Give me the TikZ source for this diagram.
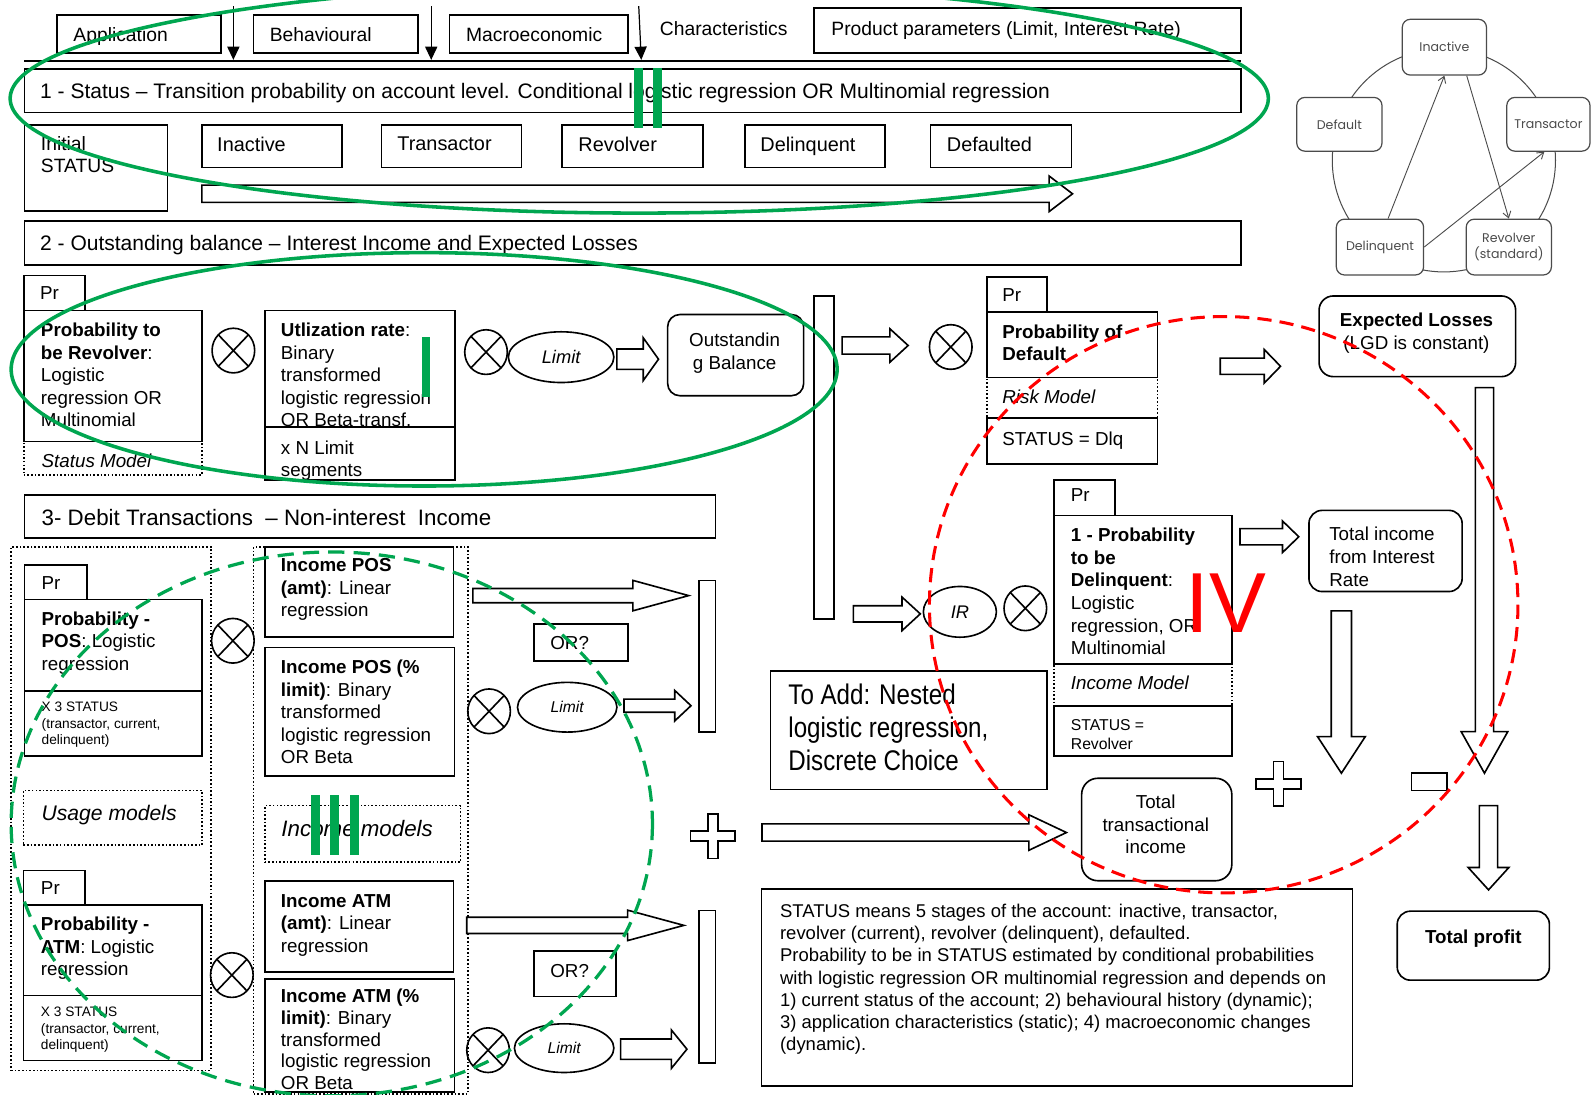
\documentclass[tikz,border=0pt]{standalone}
\usepackage{fontspec}
\setmainfont{Liberation Sans}
\newfontfamily\popfont{Poppins}
\newfontfamily\narrowfont[FakeStretch=0.85]{Liberation Sans}
\usetikzlibrary{fit,shapes.geometric,arrows.meta,calc}

\definecolor{grn}{RGB}{0,166,80}
\definecolor{rd}{RGB}{255,0,0}
\definecolor{sgray}{RGB}{75,75,75}

% font sizes (1 unit = 0.5pt)
\newcommand\fTop{\fontsize{9.5}{10.65}\selectfont}
\newcommand\fLab{\fontsize{9.8}{11}\selectfont}
\newcommand\fHdr{\fontsize{10.35}{12}\selectfont}
\newcommand\fBody{\fontsize{9.25}{11.1}\selectfont}
\newcommand\fSmall{\fontsize{6.75}{8.15}\selectfont}
\newcommand\fRev{\fontsize{7.75}{9.5}\selectfont}
\newcommand\fAdd{\narrowfont\fontsize{14}{16.25}\selectfont}
\newcommand\fNote{\fontsize{9.1}{10.95}\selectfont}
\newcommand\fState{\popfont\fontsize{6.2}{7.6}\selectfont}

% block arrows and signs
\newcommand\rblk[6]{\draw[blk] (#1,{#3-#4}) -- ({#2-#6},{#3-#4}) -- ({#2-#6},{#3-#5}) -- (#2,#3) -- ({#2-#6},{#3+#5}) -- ({#2-#6},{#3+#4}) -- (#1,{#3+#4}) -- cycle;}
\newcommand\dblk[6]{\draw[blk] ({#1-#4},#2) -- ({#1+#4},#2) -- ({#1+#4},{#3-#6}) -- ({#1+#5},{#3-#6}) -- (#1,#3) -- ({#1-#5},{#3-#6}) -- ({#1-#4},{#3-#6}) -- cycle;}
\newcommand\plusat[2]{\draw[blk] ({#1-5},{#2-22}) -- ({#1+5},{#2-22}) -- ({#1+5},{#2-5}) -- ({#1+22},{#2-5}) -- ({#1+22},{#2+5}) -- ({#1+5},{#2+5}) -- ({#1+5},{#2+22}) -- ({#1-5},{#2+22}) -- ({#1-5},{#2+5}) -- ({#1-22},{#2+5}) -- ({#1-22},{#2-5}) -- ({#1-5},{#2-5}) -- cycle;}

\tikzset{
  box/.style={draw, line width=0.8pt, inner sep=0pt},
  dbox/.style={draw, densely dotted, line width=0.8pt, inner sep=0pt},
  rbox/.style={box, rounded corners=#1},
  txt/.style={inner sep=0pt, anchor=north west, align=left, font=\fBody},
  ctxt/.style={inner sep=0pt, anchor=north, align=center, font=\fBody},
  blk/.style={draw, line width=0.8pt, fill=white, line join=miter},
  feed/.style={line width=0.6pt, -{Triangle[length=6.5pt,width=6pt]}},
  otimes/.style={draw, ellipse, line width=0.8pt, minimum width=21pt, minimum height=22pt, inner sep=0pt,
    path picture={\draw[line width=0.8pt] (path picture bounding box.north west) -- (path picture bounding box.south east)
      (path picture bounding box.north east) -- (path picture bounding box.south west);}},
  oval/.style={draw, ellipse, line width=0.8pt, inner sep=0pt},
  sbox/.style={draw=sgray, fill=white, line width=0.6pt, rounded corners=4pt, inner sep=0pt},
  stxt/.style={inner sep=0pt, align=center, font=\fState, text=sgray},
  sarr/.style={draw=sgray, line width=0.45pt, -{Straight Barb[length=3pt,width=4pt]}},
  hiloop/.style={line width=1.75pt, draw=grn},
  hidash/.style={line width=1.6pt, draw=grn, dash pattern=on 8pt off 4.5pt},
  reddash/.style={line width=1.5pt, draw=rd, dash pattern=on 7pt off 4pt},
}

\begin{document}
\begin{tikzpicture}[x=0.5pt,y=-0.5pt]
\useasboundingbox (0,0) rectangle (1568,1079);

% ---------- drivers ----------
\node[box, fit={(56,15) (218,52)}] (app) {};
\node[txt, font=\fTop] (appT) at (72,27) {Application};
\node[box, fit={(250,15) (412,52)}] (beh) {};
\node[txt, font=\fTop] (behT) at (265.5,27) {Behavioural};
\node[box, fit={(443,15) (619,52)}] (mac) {};
\node[txt, font=\fTop] (macT) at (459,27) {Macroeconomic};
\node[txt, font=\fTop] (chr) at (650,20.5) {Characteristics};
\node[box, fit={(802,8) (1223,52)}] (prod) {};
\node[txt, font=\fTop] (prodT) at (819,21) {Product parameters (Limit, Interest Rate)};

\coordinate (barL) at (24,60);
\coordinate (barR) at (1223,60);
\draw[line width=1pt] (barL) -- (barR);
\coordinate (f1a) at (230,6);   \coordinate (f1b) at (230,59);
\coordinate (f2a) at (425,6);   \coordinate (f2b) at (425,59);
\coordinate (f3a) at (629.5,6); \coordinate (f3b) at (632,59);
\draw[feed] (f1a) -- (f1b);
\draw[feed] (f2a) -- (f2b);
\draw[feed] (f3a) -- (f3b);

% ---------- 1 - Status ----------
\node[box, fit={(24,68) (1223,111)}] (s1) {};
\node[txt, font=\fHdr] (s1T) at (39.2,82) {1 - Status – Transition probability on account level. Conditional logistic regression OR Multinomial regression};

\node[box, fit={(24,123) (165,208)}] (init) {};
\node[txt, font=\fTop] (initT) at (40,134.5) {Initial\\STATUS};
\node[box, fit={(199,123) (337,165)}] (stIn) {};
\node[txt, font=\fLab] (stInT) at (213.7,134.5) {Inactive};
\node[box, fit={(376,123) (514,165)}] (stTr) {};
\node[txt, font=\fLab] (stTrT) at (391.2,134.5) {Transactor};
\node[box, fit={(554,123) (693,165)}] (stRv) {};
\node[txt, font=\fLab] (stRvT) at (569.7,134.5) {Revolver};
\node[box, fit={(734,123) (872,165)}] (stDl) {};
\node[txt, font=\fLab] (stDlT) at (749,134.5) {Delinquent};
\node[box, fit={(917,123) (1056,165)}] (stDf) {};
\node[txt, font=\fLab] (stDfT) at (932.8,134.5) {Defaulted};
\rblk{199}{1057}{191}{8.5}{17.5}{23}

% ---------- 2 - Outstanding balance ----------
\node[box, fit={(24,218) (1223,261)}] (s2) {};
\node[txt, font=\fHdr] (s2T) at (39.2,231.4) {2 - Outstanding balance – Interest Income and Expected Losses};

\node[box, fit={(23.5,271.5) (83.5,306)}] (prA) {};
\node[txt] (prAT) at (39.1,282.5) {Pr};
\node[box, fit={(23.5,306) (199,435)}] (pRev) {};
\node[txt] (pRevT) at (40,318) {\textbf{Probability to}\\\textbf{be Revolver}:\\Logistic\\regression OR\\Multinomial};
\node[dbox, fit={(23.5,435) (199,468)}] (stm) {};
\node[txt] (stmT) at (40.7,446.6) {\textit{Status Model}};
\node[otimes] (ox1) at (230,345.5) {};
\node[box, fit={(261,306) (448.7,421)}] (util) {};
\node[txt] (utilT) at (276.5,318) {\textbf{Utlization rate}:\\Binary\\transformed\\logistic regression\\OR Beta-transf.};
\node[box, fit={(261,421) (448.7,473)}] (seg) {};
\node[txt] (segT) at (276.5,434) {x N Limit\\segments};
\node[otimes] (ox2) at (479,347) {};
\node[oval, minimum width=52pt, minimum height=25pt, font=\fontsize{9}{10}\selectfont\itshape] (lim1) at (553,352) {Limit};
\rblk{608}{649}{354}{10}{21}{15}
\node[rbox=6pt, fit={(658,310) (792,390)}] (ob) {};
\node[ctxt] (obT) at (724,327.7) {Outstandin\\g Balance};
\node[box, fit={(802,292) (822,610)}] (vbar1) {};
\rblk{830}{895}{340.5}{8.5}{16.5}{18}
\node[otimes] (ox3) at (937,342) {};
\node[box, fit={(972.6,272.7) (1032,307.8)}] (prB) {};
\node[txt] (prBT) at (987.5,284) {Pr};
\node[box, fit={(972.6,307.8) (1140.8,371.9)}] (pd) {};
\node[txt] (pdT) at (987.5,319.5) {\textbf{Probability of}\\\textbf{Default}};
\node[dbox, fit={(972.6,371.9) (1140.8,412.2)}] (rsk) {};
\node[txt] (rskT) at (987.5,384.2) {\textit{Risk Model}};
\node[box, fit={(972.6,412.2) (1140.8,457.3)}] (dlq) {};
\node[txt] (dlqT) at (987.5,425.3) {STATUS = Dlq};
\rblk{1202.6}{1262}{361}{8}{16.5}{16}
\node[rbox=7pt, fit={(1300,291.7) (1493.7,371.2)}] (el) {};
\node[ctxt] (elT) at (1396,308) {\textbf{Expected Losses}\\(LGD is constant)};
\dblk{1463}{382}{762}{9}{23}{41}

% ---------- 3 - Debit transactions ----------
\node[box, fit={(24,488) (705,530)}] (s3) {};
\node[txt, font=\fontsize{11}{12}\selectfont] (s3T) at (40.7,502) {3- Debit Transactions\ \ – Non-interest\ \ Income};

\node[dbox, fit={(11,539) (208,1055)}] (grpU) {};
\node[dbox, fit={(250,539) (461,1078)}] (grpI) {};

\node[box, fit={(24,557) (86,591)}] (prC) {};
\node[txt] (prCT) at (40.7,567.5) {Pr};
\node[box, fit={(24,591) (199,681)}] (pPos) {};
\node[txt] (pPosT) at (40.7,602.3) {\textbf{Probability -}\\\textbf{POS}: Logistic\\regression};
\node[box, fit={(24,681) (199,745)}] (x3a) {};
\node[txt, font=\fSmall] (x3aT) at (40.7,691.5) {X 3 STATUS\\(transactor, current,\\delinquent)};
\node[otimes] (ox4) at (229.5,631.5) {};
\node[box, fit={(261,539) (447,627.5)}] (iPa) {};
\node[txt] (iPaT) at (276.5,550.3) {\textbf{Income POS}\\\textbf{(amt)}: Linear\\regression};
\node[box, fit={(261,638) (448,765)}] (iPp) {};
\node[txt] (iPpT) at (276.5,650.3) {\textbf{Income POS (\%}\\\textbf{limit)}: Binary\\transformed\\logistic regression\\OR Beta};
\rblk{466}{678.7}{587}{7}{15}{55}
\node[box, fit={(526,615) (619,651.5)}] (or1) {};
\node[txt] (or1T) at (542,626.3) {OR?};
\node[otimes] (ox5) at (482,701) {};
\node[oval, minimum width=49pt, minimum height=24.5pt, font=\fontsize{7.7}{9}\selectfont\itshape] (lim2) at (559,697) {Limit};
\rblk{615}{681}{695.5}{6.5}{15}{16}
\node[box, fit={(689,572) (705,721.5)}] (vbar2) {};

\node[dbox, fit={(23,779) (199,833)}] (usg) {};
\node[txt, font=\fontsize{10.4}{12}\selectfont\itshape] (usgT) at (40.7,793.5) {Usage models};
\node[dbox, fit={(261,794) (454,849.5)}] (inc) {};
\node[txt, font=\fontsize{11}{12}\selectfont\itshape] (incT) at (277,808) {Income models};

\node[box, fit={(23,858) (84,892)}] (prD) {};
\node[txt] (prDT) at (40,868.7) {Pr};
\node[box, fit={(23,892) (199,981)}] (pAtm) {};
\node[txt] (pAtmT) at (40,903.3) {\textbf{Probability -}\\\textbf{ATM}: Logistic\\regression};
\node[box, fit={(23,981) (199,1045)}] (x3b) {};
\node[txt, font=\fSmall] (x3bT) at (40,992.1) {X 3 STATUS\\(transactor, current,\\delinquent)};
\node[otimes] (ox6) at (228.5,961) {};
\node[box, fit={(261,868) (447,958)}] (iAa) {};
\node[txt] (iAaT) at (276.5,881) {\textbf{Income ATM}\\\textbf{(amt)}: Linear\\regression};
\node[box, fit={(261,965) (448,1076)}] (iAp) {};
\node[txt, font=\fontsize{9.25}{10.7}\selectfont] (iApT) at (276.5,974.5) {\textbf{Income ATM (\%}\\\textbf{limit)}: Binary\\transformed\\logistic regression\\OR Beta};
\rblk{460}{674}{912}{8}{15}{55.5}
\node[box, fit={(526,937) (607,982)}] (or2) {};
\node[txt] (or2T) at (542,950.3) {OR?};
\node[otimes] (ox7) at (481,1035) {};
\node[oval, minimum width=49pt, minimum height=24pt, font=\fontsize{7.7}{9}\selectfont\itshape] (lim3) at (556,1033) {Limit};
\rblk{611.7}{677}{1034}{10}{19}{15.4}
\node[box, fit={(689,897.5) (705,1047.6)}] (vbar3) {};

\plusat{702.5}{824}
\rblk{751}{1051}{820.5}{8.5}{17.5}{37}

% ---------- income, totals ----------
\rblk{841}{907}{605}{8}{16.5}{18}
\node[oval, minimum width=36pt, minimum height=25pt, font=\fontsize{9}{10}\selectfont\itshape] (ir) at (946,603) {IR};
\node[otimes] (ox8) at (1010.5,599.5) {};
\node[box, fit={(1039,473) (1099,508)}] (prE) {};
\node[txt] (prET) at (1055,481) {Pr};
\node[box, fit={(1039,508) (1214,654.5)}] (pDlq) {};
\node[txt] (pDlqT) at (1055,520.3) {\textbf{1 - Probability}\\\textbf{to be}\\\textbf{Delinquent}:\\Logistic\\regression, OR\\Multinomial};
\node[dbox, fit={(1039,654.5) (1214,696)}] (icm) {};
\node[txt] (icmT) at (1055,665.7) {\textit{Income Model}};
\node[box, fit={(1039,696) (1214,745)}] (rvl) {};
\node[txt, font=\fRev] (rvlT) at (1055,708.9) {STATUS =\\Revolver};
\rblk{1222}{1280}{529}{8}{15.5}{16}
\node[rbox=6.5pt, fit={(1290,503) (1441,583)}] (tii) {};
\node[txt, font=\fontsize{9.25}{11.3}\selectfont] (tiiT) at (1309.7,519) {Total income\\from Interest\\Rate};
\dblk{1322}{602}{762}{10}{23.5}{36}
\plusat{1260}{772.5}
\node[box, fit={(1391,762) (1426,779)}] (minus) {};
\dblk{1467}{794}{877}{9}{20}{22}
\node[rbox=6.5pt, fit={(1377,898) (1527,966)}] (tp) {};
\node[ctxt] (tpT) at (1452,915.7) {\textbf{Total profit}};

\node[box, fit={(759.5,661) (1032,778)}] (add) {};
\node[txt, font=\fAdd] (addT) at (776.6,674) {To Add: Nested\\logistic regression,\\Discrete Choice};
\node[rbox=8pt, fit={(1066,767) (1214,868)}] (tti) {};
\node[ctxt] (ttiT) at (1139,783) {Total\\transactional\\income};

\node[box, fit={(750.6,876) (1333,1070)}] (note) {};
\node[txt, font=\fNote] (noteT) at (768.4,890.5) {STATUS means 5 stages of the account: inactive, transactor,\\revolver (current), revolver (delinquent), defaulted.\\Probability to be in STATUS estimated by conditional probabilities\\with logistic regression OR multinomial regression and depends on\\1) current status of the account; 2) behavioural history (dynamic);\\3) application characteristics (static); 4) macroeconomic changes\\(dynamic).};

% ---------- state cycle ----------
\coordinate (cyc) at (1423,158);
\draw[draw=sgray, line width=0.5pt] (cyc) circle [radius=110];
\node[sbox, fit={(1382,19) (1465,74)}] (sIn) {};
\node[sbox, fit={(1278,96) (1362,149)}] (sDf) {};
\node[sbox, fit={(1485,96) (1567,149)}] (sTr) {};
\node[sbox, fit={(1317,216) (1403,271)}] (sDl) {};
\node[sbox, fit={(1445,216) (1529,271)}] (sRv) {};
\node[stxt] (sInT) at (sIn.center) {Inactive};
\node[stxt] (sDfT) at (sDf.center) {Default};
\node[stxt] (sTrT) at (sTr.center) {Transactor};
\node[stxt] (sDlT) at (sDl.center) {Delinquent};
\node[stxt] (sRvT) at (sRv.center) {Revolver\\(standard)};
\draw[sarr] ([xshift=4pt]sDl.north) -- (sIn.south);
\draw[sarr] ([xshift=11pt]sIn.south) -- (sRv.north);
\draw[sarr] (sDl.east) -- ([xshift=-2pt]sTr.south);

% ---------- highlights ----------
\begin{scope}
\clip (0,0) rectangle (1568,1079);
\draw[hiloop] (630,97) ellipse [x radius=620, y radius=113];
\draw[hiloop] (418,364) ellipse [x radius=407, y radius=115];
\draw[hidash] (327,812) ellipse [x radius=316, y radius=268];
\draw[reddash] (1206,596) ellipse [x radius=290, y radius=284];
\fill[grn] (625,67.4) rectangle (633.6,126.5);
\fill[grn] (643.6,67.4) rectangle (652.4,126.5);
\fill[grn] (416,332) rectangle (424,391);
\fill[grn] (306.6,783.5) rectangle (315.4,843);
\fill[grn] (325,783.5) rectangle (334,843);
\fill[grn] (345,783.5) rectangle (354,843);
\node[anchor=base west, inner sep=0pt, text=rd, font=\fontsize{42}{42}\selectfont] (iv) at (1168,623.5) {IV};
\end{scope}
\end{tikzpicture}
\end{document}
